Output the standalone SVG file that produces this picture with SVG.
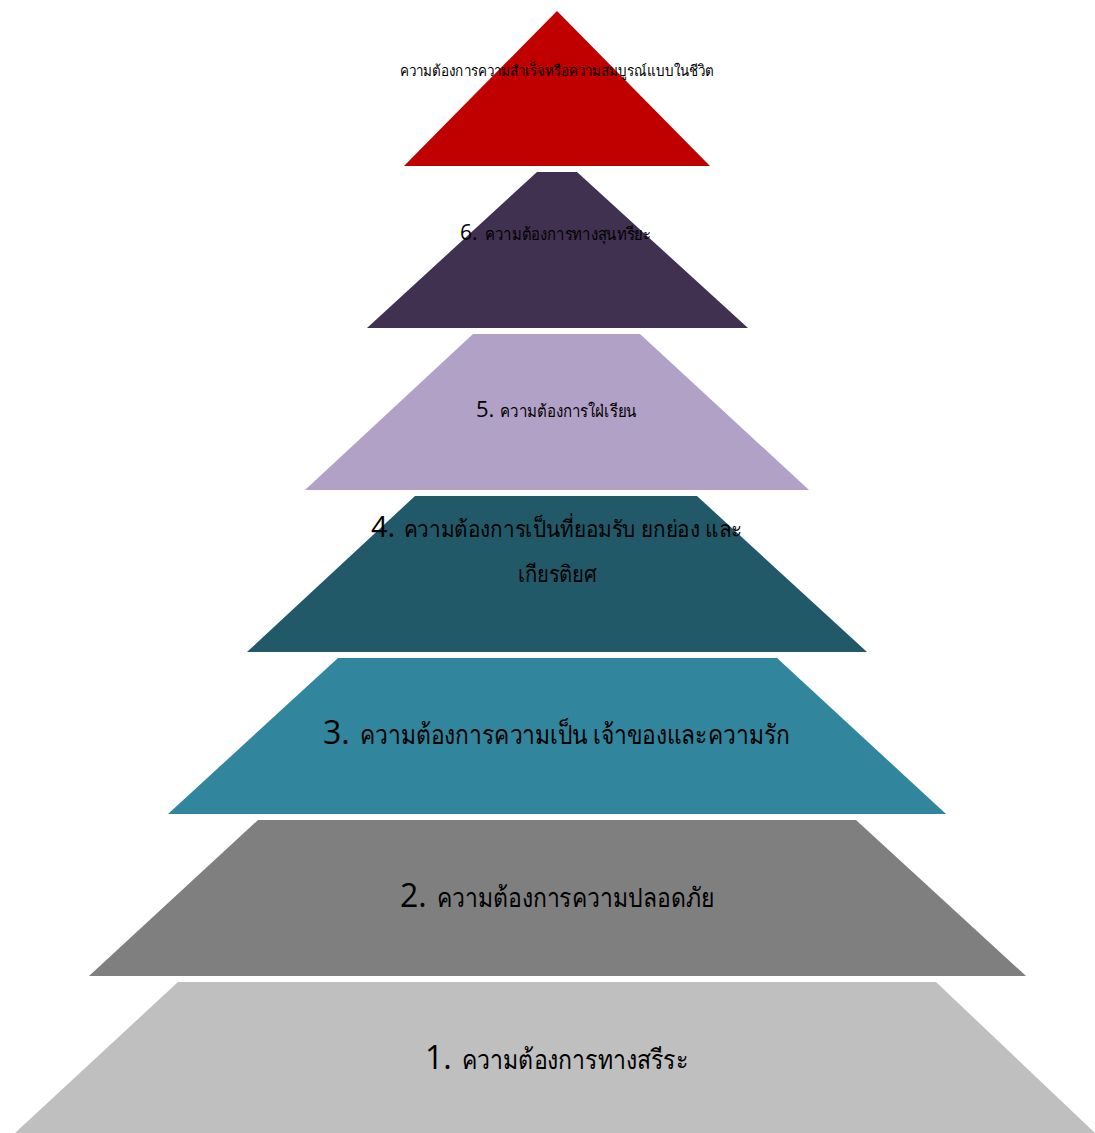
<svg xmlns="http://www.w3.org/2000/svg" width="1095" height="1133" viewBox="0 0 1095 1133">
  <style>
    .th { font-family: "Noto Sans", "DejaVu Sans", sans-serif; fill: #000; }
    .num { font-family: "Open Sans", "Noto Sans", sans-serif; fill: #000; }
  </style>
  <rect width="1095" height="1133" fill="#fff"/>

  <!-- pyramid tiers, top to bottom; Thai labels squeezed to the tier width -->
  <g id="tier7">
    <polygon points="557,11 710,166 404,166" fill="#c00000"/>
    <text class="th" x="400" y="76" font-size="15" textLength="314" lengthAdjust="spacingAndGlyphs">ความต้องการความสำเร็จหรือความสมบูรณ์แบบในชีวิต</text>
  </g>
  <g id="tier6">
    <polygon points="537,172 577,172 748,328 367,328" fill="#403151"/>
    <text class="num" x="460" y="240" font-size="21">6.</text>
    <text class="th" x="485" y="240" font-size="17" textLength="166" lengthAdjust="spacingAndGlyphs">ความต้องการทางสุนทรียะ</text>
  </g>
  <g id="tier5">
    <polygon points="473,334 640,334 809,490 305,490" fill="#b2a1c7"/>
    <text class="num" x="476" y="417" font-size="22">5.</text>
    <text class="th" x="500" y="417" font-size="17" textLength="137" lengthAdjust="spacingAndGlyphs">ความต้องการใฝ่เรียน</text>
  </g>
  <g id="tier4">
    <polygon points="415,496 697,496 867,652 247,652" fill="#215968"/>
    <text class="num" x="371" y="537" font-size="29">4.</text>
    <text class="th" x="404" y="537" font-size="23" textLength="338" lengthAdjust="spacingAndGlyphs">ความต้องการเป็นที่ยอมรับ ยกย่อง และ</text>
    <text class="th" x="518" y="582" font-size="23" textLength="79" lengthAdjust="spacingAndGlyphs">เกียรติยศ</text>
  </g>
  <g id="tier3">
    <polygon points="338,658 777,658 946,814 168,814" fill="#31859c"/>
    <text class="num" x="323" y="744" font-size="32">3.</text>
    <text class="th" x="360" y="744" font-size="27" textLength="430" lengthAdjust="spacingAndGlyphs">ความต้องการความเป็น เจ้าของและความรัก</text>
  </g>
  <g id="tier2">
    <polygon points="258,820 856,820 1026,976 89,976" fill="#7f7f7f"/>
    <text class="num" x="400" y="907" font-size="32">2.</text>
    <text class="th" x="437" y="907" font-size="27" textLength="278" lengthAdjust="spacingAndGlyphs">ความต้องการความปลอดภัย</text>
  </g>
  <g id="tier1">
    <polygon points="178,982 936,982 1095,1133 15,1133" fill="#bfbfbf"/>
    <text class="num" x="425" y="1069" font-size="32">1.</text>
    <text class="th" x="462" y="1069" font-size="27" textLength="227" lengthAdjust="spacingAndGlyphs">ความต้องการทางสรีระ</text>
  </g>

  <g id="connectors"/>
</svg>
